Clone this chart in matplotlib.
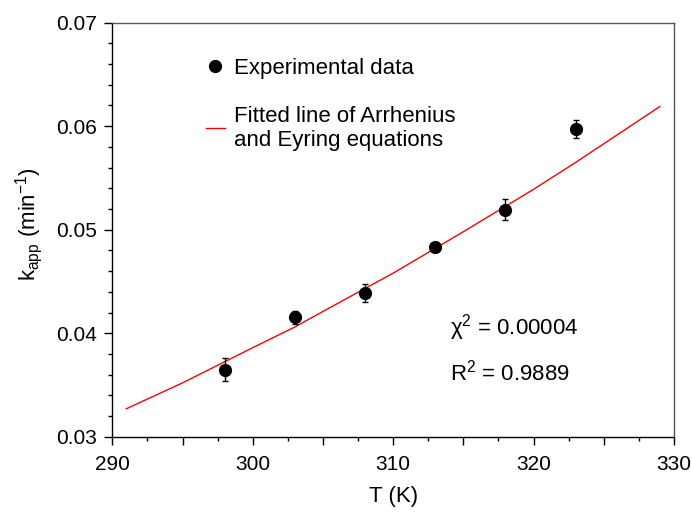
import matplotlib
matplotlib.use("Agg")
import matplotlib.pyplot as plt
from matplotlib.lines import Line2D
from matplotlib.ticker import MultipleLocator, FuncFormatter

plt.rcParams['font.family'] = ['Liberation Sans', 'DejaVu Sans']
plt.rcParams['mathtext.fontset'] = 'custom'
plt.rcParams['mathtext.rm'] = 'Liberation Sans'
plt.rcParams['mathtext.it'] = 'Liberation Sans:italic'

# Experimental data
T_exp = [298, 303, 308, 313, 318, 323]
k_exp = [0.03646, 0.04152, 0.04388, 0.04836, 0.05195, 0.05976]
k_err = [0.00110, 0.00066, 0.00089, 0.00020, 0.00100, 0.00087]

# Fitted line
T_fit = [291, 295, 300, 303, 305, 310, 313, 315, 320, 323, 325, 329]
k_fit = [0.0327, 0.0352, 0.0386, 0.0406, 0.0421, 0.0458, 0.0482, 0.0498,
         0.0539, 0.0565, 0.0583, 0.0619]

fig = plt.figure(figsize=(6.92, 5.15), dpi=100)
ax = fig.add_axes([0.1623, 0.152, 0.974 - 0.1623, 0.956 - 0.152])

ax.plot(T_fit, k_fit, color='red', lw=1.0)
ax.errorbar(T_exp, k_exp, yerr=k_err, fmt='none', ecolor='black',
            elinewidth=1, capsize=2, capthick=1)
ax.plot(T_exp, k_exp, 'o', color='black', ms=8.5, ls='none')

ax.set_xlim(290, 330)
ax.set_ylim(0.03, 0.07)
ax.xaxis.set_major_locator(MultipleLocator(5))
ax.xaxis.set_minor_locator(MultipleLocator(2.5))
ax.xaxis.set_major_formatter(FuncFormatter(lambda v, p: f"{v:.0f}" if abs(v % 10) < 1e-6 else ""))
ax.yaxis.set_major_locator(MultipleLocator(0.01))
ax.yaxis.set_minor_locator(MultipleLocator(0.002))
ax.yaxis.set_major_formatter(FuncFormatter(lambda v, p: f"{v:.2f}"))

ax.tick_params(which='major', direction='out', length=6, width=1, labelsize=15)
ax.tick_params(axis='x', which='major', pad=7)
ax.tick_params(axis='y', which='major', pad=5)
ax.tick_params(which='minor', direction='out', length=3, width=1)
ax.tick_params(top=False, right=False)

for s in ['left', 'bottom']:
    ax.spines[s].set_color('black')
    ax.spines[s].set_linewidth(1.0)
for s in ['top', 'right']:
    ax.spines[s].set_color('#555555')
    ax.spines[s].set_linewidth(1.0)

ax.set_xlabel('T (K)', fontsize=16, labelpad=9)
ax.set_ylabel(r'k$_{\mathrm{app}}$ (min$^{-1}$)', fontsize=16, labelpad=8)
ax.yaxis.label.set_y(0.514)

h_dot = Line2D([], [], marker='o', color='black', ms=8.5, ls='none')
h_line = Line2D([], [], color='red', lw=1.0)
ax.legend([h_dot, h_line],
          ['Experimental data', 'Fitted line of Arrhenius\nand Eyring equations'],
          loc='upper left', bbox_to_anchor=(0.151, 0.9365), frameon=False,
          fontsize=16, handlelength=0.85, handletextpad=0.4, labelspacing=1.2,
          borderaxespad=0)

ax.text(450 / 692, 1 - 328 / 515, r'χ$^2$ = 0.00004', transform=fig.transFigure,
        fontsize=16, va='center')
ax.text(450 / 692, 1 - 373 / 515, r'R$^2$ = 0.9889', transform=fig.transFigure,
        fontsize=16, va='center')

fig.savefig('out.png', dpi=100)
